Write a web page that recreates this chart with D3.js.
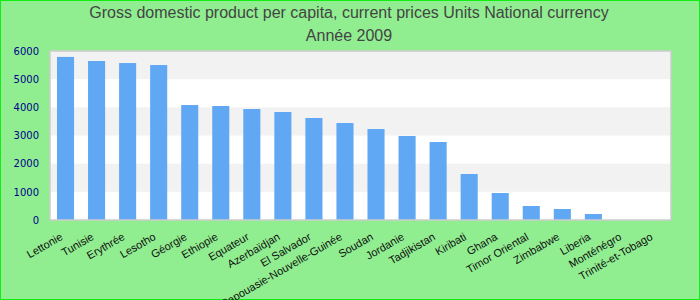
<!DOCTYPE html>
<html><head><meta charset="utf-8">
<script src="https://cdn.jsdelivr.net/npm/d3@7"></script>
<style>
html,body{margin:0;padding:0;background:#90ee90;}
svg{display:block;}
</style></head>
<body>
<script>
const titleLines = ["Gross domestic product per capita, current prices Units National currency", "Année 2009"];
const categories = ["Lettonie","Tunisie","Erythrée","Lesotho","Géorgie","Ethiopie","Equateur","Azerbaïdjan","El Salvador","Papouasie-Nouvelle-Guinée","Soudan","Jordanie","Tadjikistan","Kiribati","Ghana","Timor Oriental","Zimbabwe","Liberia","Monténégro","Trinité-et-Tobago"];
const values = [5790,5645,5573,5502,4082,4047,3940,3834,3621,3443,3230,2982,2769,1633,958,497,390,213,0,0];
const yTicks = [0,1000,2000,3000,4000,5000,6000];

const W = 700, H = 300;
const m = {left:50, right:29, top:51, bottom:80};
const svg = d3.select("body").append("svg").attr("width",W).attr("height",H);
svg.append("rect").attr("x",0.5).attr("y",0.5).attr("width",W-1).attr("height",H-1)
  .attr("fill","#90ee90").attr("stroke","#11ee11").attr("stroke-width",1);

const x = d3.scaleBand().domain(categories).range([m.left, W-m.right]).paddingInner(0.45).paddingOuter(0.225);
const y = d3.scaleLinear().domain([0,6000]).range([H-m.bottom, m.top]);

// plot background bands
const g = svg.append("g");
g.append("rect").attr("x",m.left).attr("y",m.top).attr("width",W-m.right-m.left).attr("height",H-m.bottom-m.top).attr("fill","#ffffff");
for (let i=0;i<yTicks.length-1;i++){
  if (i%2===1){
    g.append("rect").attr("x",m.left).attr("width",W-m.right-m.left)
      .attr("y",y(yTicks[i+1])).attr("height",y(yTicks[i])-y(yTicks[i+1])).attr("fill","#f2f2f2");
  }
}

// bars
svg.append("g").selectAll("rect").data(categories).join("rect")
  .attr("x",d=>x(d)).attr("width",x.bandwidth())
  .attr("y",(d,i)=>y(values[i])).attr("height",(d,i)=>y(0)-y(values[i]))
  .attr("fill","#61a8f4");

// plot frame
svg.append("rect").attr("x",m.left).attr("y",m.top).attr("width",W-m.right-m.left).attr("height",H-m.bottom-m.top)
  .attr("fill","none").attr("stroke","#cccccc").attr("stroke-width",1.5);

// y axis
const yAxis = d3.axisLeft(y).tickValues(yTicks).tickSize(0).tickPadding(11).tickFormat(d3.format("d"));
const ya = svg.append("g").attr("transform",`translate(${m.left},0)`).call(yAxis);
ya.select(".domain").remove();
ya.selectAll("text").attr("fill","#00008b").style("font-family","DejaVu Sans").style("font-size","10px");

// x axis
const xAxis = d3.axisBottom(x).tickSize(0).tickPadding(0);
const xa = svg.append("g").attr("transform",`translate(0,${H-m.bottom})`).call(xAxis);
xa.select(".domain").remove();
xa.selectAll("text")
  .attr("fill","#111")
  .style("font-family","Liberation Sans, Arial, sans-serif").style("font-size","11px")
  .attr("text-anchor","end").attr("dy",0).attr("y",0)
  .attr("transform","translate(-2,19) rotate(-30)");

// title
svg.append("g").selectAll("text").data(titleLines).join("text")
  .attr("x",349).attr("y",(d,i)=>18+i*23)
  .attr("text-anchor","middle")
  .attr("fill","#444444")
  .style("font-family","Liberation Sans, Arial, sans-serif").style("font-size","16px")
  .text(d=>d);
</script>
</body></html>
